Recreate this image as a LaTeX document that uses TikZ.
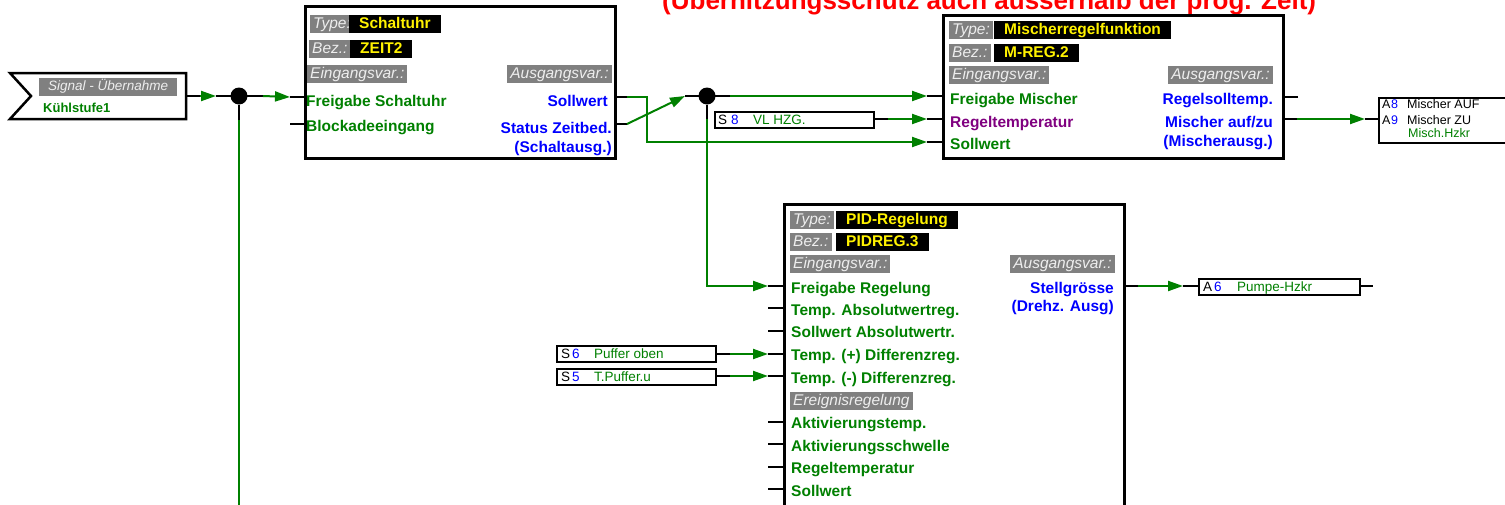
\documentclass[tikz,border=0pt]{standalone}
\usepackage{fontspec}
\setmainfont{Liberation Sans}
\usetikzlibrary{arrows.meta}

\definecolor{vgreen}{RGB}{0,128,0}
\definecolor{vblue}{RGB}{0,0,255}
\definecolor{vpurple}{RGB}{128,0,128}
\definecolor{tagfill}{RGB}{128,128,128}
\definecolor{tagtext}{RGB}{238,238,238}

\tikzset{
    blk/.style={draw, line width=2.5pt, fill=white, inner sep=0pt, anchor=north west},
    iobox/.style={draw, line width=2.2pt, fill=white, inner sep=0pt, anchor=north west},
    tag/.style={fill=tagfill, text=tagtext, font=\fontsize{15.5}{18}\selectfont\itshape,
        inner xsep=3pt, inner ysep=1pt, text height=12pt, text depth=4pt, anchor=north west},
    val/.style={fill=black, text=yellow, font=\fontsize{15.5}{18}\selectfont\bfseries,
        inner xsep=10pt, inner ysep=1pt, text height=12pt, text depth=4pt, anchor=north west},
    ein/.style={text=vgreen, font=\fontsize{15.5}{18}\selectfont\bfseries, inner sep=0pt, anchor=base west},
    aus/.style={text=vblue, font=\fontsize{15.5}{18}\selectfont\bfseries, inner sep=0pt, anchor=base east},
    iotext/.style={font=\fontsize{13.5}{16}\selectfont, inner sep=0pt, anchor=base west},
    pin/.style={line width=2pt, black},
    wire/.style={line width=2pt, vgreen, -{Triangle[length=15pt, width=10pt]}},
    dot/.style={circle, fill=black, minimum size=17pt, inner sep=0pt},
}

\begin{document}
\begin{tikzpicture}[x=1pt, y=-1pt]
    \path[use as bounding box, fill=white] (0, 0) rectangle (1505, 504);

    % note on top, cut by the page
    \node[text=red, font=\fontsize{26}{30}\selectfont\bfseries, inner sep=0pt, anchor=base west]
        at (662, 9)(note){(Überhitzungsschutz auch ausserhalb der prog. Zeit)};

    % signal input
    \draw[line width=2.5pt, fill=white] (10, 73) -- (186, 73) -- (186, 119) -- (10, 119) -- (31, 96) -- cycle;
    \node[tag, font=\fontsize{13.5}{16}\selectfont\itshape, text height=11pt, text depth=3.5pt,
        inner ysep=1.5pt, minimum width=138pt] at (39, 78)(sigtag){Signal - Übernahme};
    \node[ein, font=\fontsize{13}{16}\selectfont\bfseries] at (43, 112)(sigval){Kühlstufe1};
    \coordinate (sig-o) at (200, 96);
    \draw[pin] (186, 96) -- (sig-o);

    % junctions
    \node[dot] at (239, 96)(j1){};
    \coordinate (j1-w) at (216, 96);
    \coordinate (j1-e) at (263, 96);
    \coordinate (j1-s) at (239, 120);
    \coordinate (j1-end) at (239, 512);
    \draw[pin] (j1-w) -- (j1-e) (j1) -- (j1-s);

    \node[dot] at (707, 96)(j2){};
    \coordinate (j2-w) at (685, 96);
    \coordinate (j2-e) at (730, 96);
    \coordinate (j2-s) at (707, 119);
    \draw[pin] (j2-w) -- (j2-e) (j2) -- (j2-s);

    % Schaltuhr
    \node[blk, minimum width=310pt, minimum height=152pt] at (304, 5)(zt){};
    \node[tag] at (310, 15)(zt-t){Type:};
    \node[val] at (349, 15)(zt-tv){Schaltuhr};
    \node[tag] at (309, 40)(zt-b){Bez.:};
    \node[val] at (350, 40)(zt-bv){ZEIT2};
    \node[tag] at (307, 65)(zt-e){Eingangsvar.:};
    \node[tag, anchor=north east] at (612, 65)(zt-a){Ausgangsvar.:};
    \node[ein] at (306, 106)(zt-l1){Freigabe Schaltuhr};
    \node[ein] at (306, 131)(zt-l2){Blockadeeingang};
    \node[aus] at (608, 106)(zt-r1){Sollwert};
    \node[aus] at (612, 133)(zt-r2){Status Zeitbed.};
    \node[aus] at (612, 152)(zt-r3){(Schaltausg.)};
    \coordinate (zt-i1) at (290, 97);
    \coordinate (zt-i2) at (290, 124);
    \coordinate (zt-o1) at (627, 97);
    \coordinate (zt-o2) at (627, 124);
    \draw[pin] (zt-i1) -- ++(14, 0) (zt-i2) -- ++(14, 0);
    \draw[pin] (zt-o1) -- ++(-13, 0) (zt-o2) -- ++(-13, 0);

    % Mischerregelfunktion
    \node[blk, minimum width=340pt, minimum height=143pt] at (942, 14)(mr){};
    \node[tag] at (949, 21)(mr-t){Type:};
    \node[val] at (994, 21)(mr-tv){Mischerregelfunktion};
    \node[tag] at (949, 44)(mr-b){Bez.:};
    \node[val] at (994, 44)(mr-bv){M-REG.2};
    \node[tag] at (949, 66)(mr-e){Eingangsvar.:};
    \node[tag, anchor=north east] at (1273, 66)(mr-a){Ausgangsvar.:};
    \node[ein] at (950, 104)(mr-l1){Freigabe Mischer};
    \node[ein, text=vpurple] at (950, 127)(mr-l2){Regeltemperatur};
    \node[ein] at (950, 149)(mr-l3){Sollwert};
    \node[aus] at (1273, 104)(mr-r1){Regelsolltemp.};
    \node[aus] at (1273, 127)(mr-r2){Mischer auf/zu};
    \node[aus] at (1273, 146)(mr-r3){(Mischerausg.)};
    \coordinate (mr-i1) at (927, 96);
    \coordinate (mr-i2) at (927, 119);
    \coordinate (mr-i3) at (927, 142);
    \coordinate (mr-o1) at (1298, 97);
    \coordinate (mr-o2) at (1297, 119);
    \draw[pin] (mr-i1) -- ++(15, 0) (mr-i2) -- ++(15, 0) (mr-i3) -- ++(15, 0);
    \draw[pin] (mr-o1) -- ++(-16, 0) (mr-o2) -- ++(-15, 0);

    % sensor S8
    \node[iobox, minimum width=159pt, minimum height=16pt] at (714, 111)(s8){};
    \node[iotext] at (718, 124)(s8-a){S};
    \node[iotext, text=vblue] at (731, 124)(s8-n){8};
    \node[iotext, text=vgreen] at (753, 124)(s8-t){VL HZG.};
    \coordinate (s8-o) at (888, 119);
    \draw[pin] (873, 119) -- (s8-o);

    % outputs A8 / A9
    \node[iobox, minimum width=140pt, minimum height=45pt] at (1378, 97)(am){};
    \node[iotext, font=\fontsize{12.5}{15}\selectfont] at (1382, 108)(am-a1){A};
    \node[iotext, font=\fontsize{12.5}{15}\selectfont, text=vblue] at (1391, 108)(am-n1){8};
    \node[iotext, font=\fontsize{12.5}{15}\selectfont] at (1407, 108)(am-t1){Mischer AUF};
    \node[iotext, font=\fontsize{12.5}{15}\selectfont] at (1382, 124)(am-a2){A};
    \node[iotext, font=\fontsize{12.5}{15}\selectfont, text=vblue] at (1391, 124)(am-n2){9};
    \node[iotext, font=\fontsize{12.5}{15}\selectfont] at (1407, 124)(am-t2){Mischer ZU};
    \node[iotext, font=\fontsize{12.5}{15}\selectfont, text=vgreen] at (1408, 137)(am-t3){Misch.Hzkr};
    \coordinate (am-i) at (1365, 119);
    \draw[pin] (am-i) -- ++(13, 0);

    % PID-Regelung
    \node[blk, minimum width=340pt, minimum height=320pt] at (783, 203)(pid){};
    \node[tag] at (790, 211)(pid-t){Type:};
    \node[val] at (836, 211)(pid-tv){PID-Regelung};
    \node[tag] at (790, 233)(pid-b){Bez.:};
    \node[val] at (836, 233)(pid-bv){PIDREG.3};
    \node[tag] at (790, 255)(pid-e){Eingangsvar.:};
    \node[tag, anchor=north east] at (1115, 255)(pid-a){Ausgangsvar.:};
    \node[ein] at (791, 293)(pid-l1){Freigabe Regelung};
    \node[ein] at (791, 315)(pid-l2){Temp. Absolutwertreg.};
    \node[ein] at (791, 337)(pid-l3){Sollwert Absolutwertr.};
    \node[ein] at (791, 360)(pid-l4){Temp. (+) Differenzreg.};
    \node[ein] at (791, 383)(pid-l5){Temp. (-) Differenzreg.};
    \node[tag] at (790, 392)(pid-ev){Ereignisregelung};
    \node[ein] at (791, 428)(pid-l6){Aktivierungstemp.};
    \node[ein] at (791, 451)(pid-l7){Aktivierungsschwelle};
    \node[ein] at (791, 473)(pid-l8){Regeltemperatur};
    \node[ein] at (791, 496)(pid-l9){Sollwert};
    \node[aus] at (1114, 293)(pid-r1){Stellgrösse};
    \node[aus] at (1114, 311)(pid-r2){(Drehz. Ausg)};
    \coordinate (pid-i1) at (768, 286);
    \coordinate (pid-i2) at (768, 308);
    \coordinate (pid-i3) at (768, 331);
    \coordinate (pid-i4) at (768, 354);
    \coordinate (pid-i5) at (768, 376);
    \coordinate (pid-i6) at (768, 422);
    \coordinate (pid-i7) at (768, 444);
    \coordinate (pid-i8) at (768, 467);
    \coordinate (pid-i9) at (768, 489);
    \coordinate (pid-o) at (1138, 286);
    \draw[pin] (pid-i1) -- ++(15, 0) (pid-i2) -- ++(15, 0) (pid-i3) -- ++(15, 0)
        (pid-i4) -- ++(15, 0) (pid-i5) -- ++(15, 0) (pid-i6) -- ++(15, 0)
        (pid-i7) -- ++(15, 0) (pid-i8) -- ++(15, 0) (pid-i9) -- ++(15, 0);
    \draw[pin] (pid-o) -- ++(-15, 0);

    % sensors S6, S5
    \node[iobox, minimum width=159pt, minimum height=16pt] at (556, 345)(s6){};
    \node[iotext] at (561, 358)(s6-a){S};
    \node[iotext, text=vblue] at (572, 358)(s6-n){6};
    \node[iotext, text=vgreen] at (594, 358)(s6-t){Puffer oben};
    \coordinate (s6-o) at (730, 354);
    \draw[pin] (715, 354) -- (s6-o);

    \node[iobox, minimum width=159pt, minimum height=16pt] at (556, 368)(s5){};
    \node[iotext] at (561, 381)(s5-a){S};
    \node[iotext, text=vblue] at (572, 381)(s5-n){5};
    \node[iotext, text=vgreen] at (594, 381)(s5-t){T.Puffer.u};
    \coordinate (s5-o) at (730, 376);
    \draw[pin] (715, 376) -- (s5-o);

    % output A6
    \node[iobox, minimum width=161pt, minimum height=16pt] at (1198, 278)(a6){};
    \node[iotext] at (1203, 291)(a6-a){A};
    \node[iotext, text=vblue] at (1214, 291)(a6-n){6};
    \node[iotext, text=vgreen] at (1237, 291)(a6-t){Pumpe-Hzkr};
    \coordinate (a6-i) at (1183, 286);
    \draw[pin] (a6-i) -- ++(15, 0) (1359, 286) -- ++(14, 0);

    % connections
    \draw[wire] (sig-o) -- (j1-w);
    \draw[wire] (j1-e) -- (zt-i1);
    \draw[wire, -] (j1-s) -- (j1-end);
    \draw[wire] (zt-o1) -- ++(20, 0) |- (mr-i3);
    \draw[wire] (zt-o2) -- (j2-w);
    \draw[wire] (j2-e) -- (mr-i1);
    \draw[wire] (j2-s) |- (pid-i1);
    \draw[wire] (s8-o) -- (mr-i2);
    \draw[wire] (mr-o2) -- (am-i);
    \draw[wire] (pid-o) -- (a6-i);
    \draw[wire] (s6-o) -- (pid-i4);
    \draw[wire] (s5-o) -- (pid-i5);
\end{tikzpicture}
\end{document}
